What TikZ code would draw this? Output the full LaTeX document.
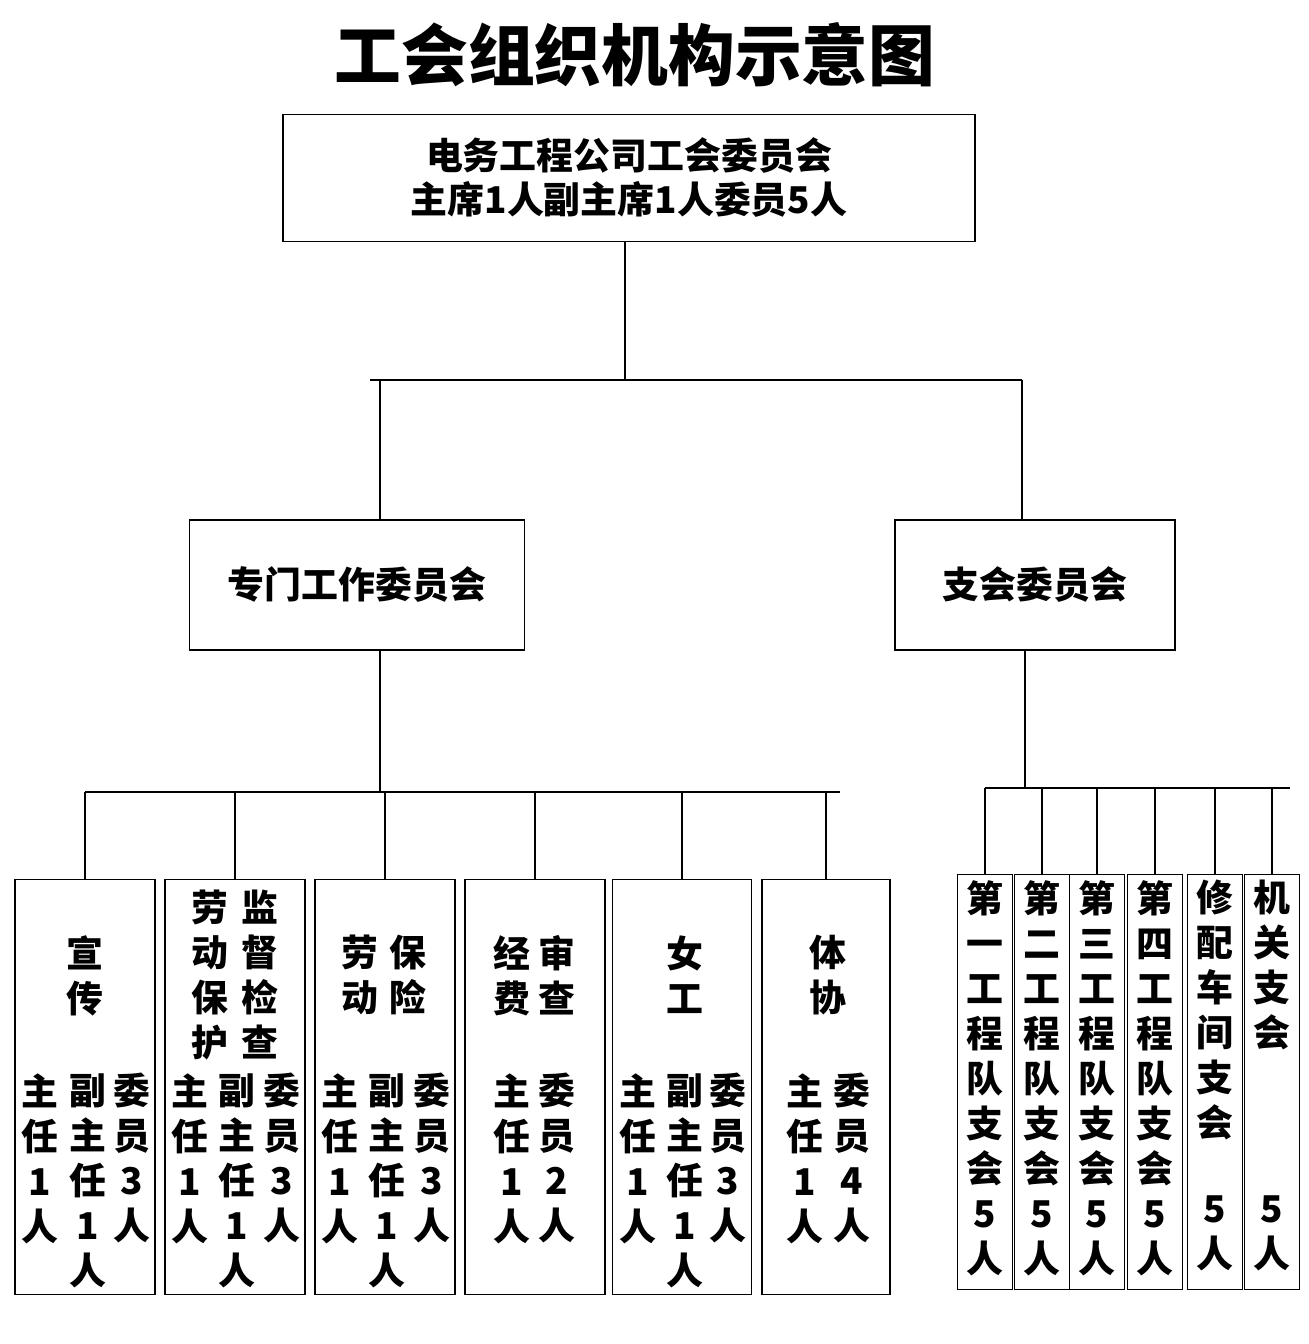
\documentclass[tikz,border=0pt]{standalone}
\usepackage{fontspec}
\setmainfont{Noto Sans CJK SC}
\usetikzlibrary{positioning}
\tikzset{
  box/.style={draw,thick,minimum height=8.3cm,inner sep=0pt},
  ln/.style={thick},
  vtxt/.style={anchor=north,align=center,inner sep=0pt,font=\fontsize{21}{25.6}\selectfont\bfseries},
}
\begin{document}
\begin{tikzpicture}[x=0.02cm,y=-0.02cm]
\useasboundingbox (0,0) rectangle (1308,1344);
\node (title) at (635,55) {\fontsize{38}{40}\selectfont\bfseries 工会组织机构示意图};
%
\node[draw,thick,minimum width=13.84cm,minimum height=2.54cm,align=center,font=\fontsize{21}{25}\selectfont\bfseries] (top) at (629,178) {电务工程公司工会委员会\\主席1人副主席1人委员5人};
%
\node[draw,thick,minimum width=6.7cm,minimum height=2.6cm,font=\fontsize{21}{24}\selectfont\bfseries] (zm) at (357,585) {专门工作委员会};
\node[draw,thick,minimum width=5.6cm,minimum height=2.6cm,font=\fontsize{21}{24}\selectfont\bfseries] (zh) at (1035,585) {支会委员会};
%
\coordinate (t1) at (625,380);
\coordinate (bl) at (380,380);
\coordinate (br) at (1022,380);
\draw[ln] (top.south -| t1) -- (t1);
\draw[ln] (bl) -- (br);
\draw[ln] (bl) -- (zm.north -| bl);
\draw[ln] (br) -- (zh.north -| br);
\draw[ln] (370,380) -- (bl);
%
\coordinate (l1) at (380,792);
\coordinate (r1) at (1025,788);
\draw[ln] (zm.south -| l1) -- (l1);
\draw[ln] (zh.south -| r1) -- (r1);
\draw[ln] (85,792) -- (840,792);
\draw[ln] (985,788) -- (1290,788);
% left boxes
\foreach \n/\x/\w in {a/85/2.8,b/235/2.8,c/385/2.8,d/535/2.8,e/682/2.78,f/826/2.56}{
  \node[box,minimum width=\w cm] (\n) at (\x,1087) {};
  \draw[ln] (\x,792) -- (\n.north);
}
% right boxes
\foreach \n/\x in {g/985,h/1042,i/1097,j/1155,k/1215,m/1272}{
  \node[box,minimum width=1.1cm] (\n) at (\x,1082) {};
  \draw[ln] (\x,788) -- (\n.north);
}
% texts
\node[vtxt] (a1) at (85,935) {宣\\传};
\node[vtxt] (a2) at (40,1073) {主\\任\\1\\人};
\node[vtxt] (a3) at (88,1073) {副\\主\\任\\1\\人};
\node[vtxt] (a4) at (132,1073) {委\\员\\3\\人};
%
\node[vtxt] (b1) at (210,890) {劳\\动\\保\\护};
\node[vtxt] (b2) at (260,890) {监\\督\\检\\查};
\node[vtxt] (b3) at (190,1073) {主\\任\\1\\人};
\node[vtxt] (b4) at (237,1073) {副\\主\\任\\1\\人};
\node[vtxt] (b5) at (282,1073) {委\\员\\3\\人};
%
\node[vtxt] (c1) at (360,935) {劳\\动};
\node[vtxt] (c2) at (408,935) {保\\险};
\node[vtxt] (c3) at (340,1073) {主\\任\\1\\人};
\node[vtxt] (c4) at (387,1073) {副\\主\\任\\1\\人};
\node[vtxt] (c5) at (432,1073) {委\\员\\3\\人};
%
\node[vtxt] (d1) at (512,935) {经\\费};
\node[vtxt] (d2) at (557,935) {审\\查};
\node[vtxt] (d3) at (512,1073) {主\\任\\1\\人};
\node[vtxt] (d4) at (557,1073) {委\\员\\2\\人};
%
\node[vtxt] (e1) at (685,935) {女\\工};
\node[vtxt] (e2) at (638,1073) {主\\任\\1\\人};
\node[vtxt] (e3) at (685,1073) {副\\主\\任\\1\\人};
\node[vtxt] (e4) at (728,1073) {委\\员\\3\\人};
%
\node[vtxt] (f1) at (828,935) {体\\协};
\node[vtxt] (f2) at (805,1073) {主\\任\\1\\人};
\node[vtxt] (f3) at (852,1073) {委\\员\\4\\人};
%
\node[vtxt] (g1) at (985,880) {第\\一\\工\\程\\队\\支\\会\\5\\人};
\node[vtxt] (h1) at (1042,880) {第\\二\\工\\程\\队\\支\\会\\5\\人};
\node[vtxt] (i1) at (1097,880) {第\\三\\工\\程\\队\\支\\会\\5\\人};
\node[vtxt] (j1) at (1155,880) {第\\四\\工\\程\\队\\支\\会\\5\\人};
\node[vtxt] (k1) at (1215,880) {修\\配\\车\\间\\支\\会};
\node[vtxt] (k2) at (1215,1195) {5\\人};
\node[vtxt] (m1) at (1272,880) {机\\关\\支\\会};
\node[vtxt] (m2) at (1272,1195) {5\\人};
\end{tikzpicture}
\end{document}
